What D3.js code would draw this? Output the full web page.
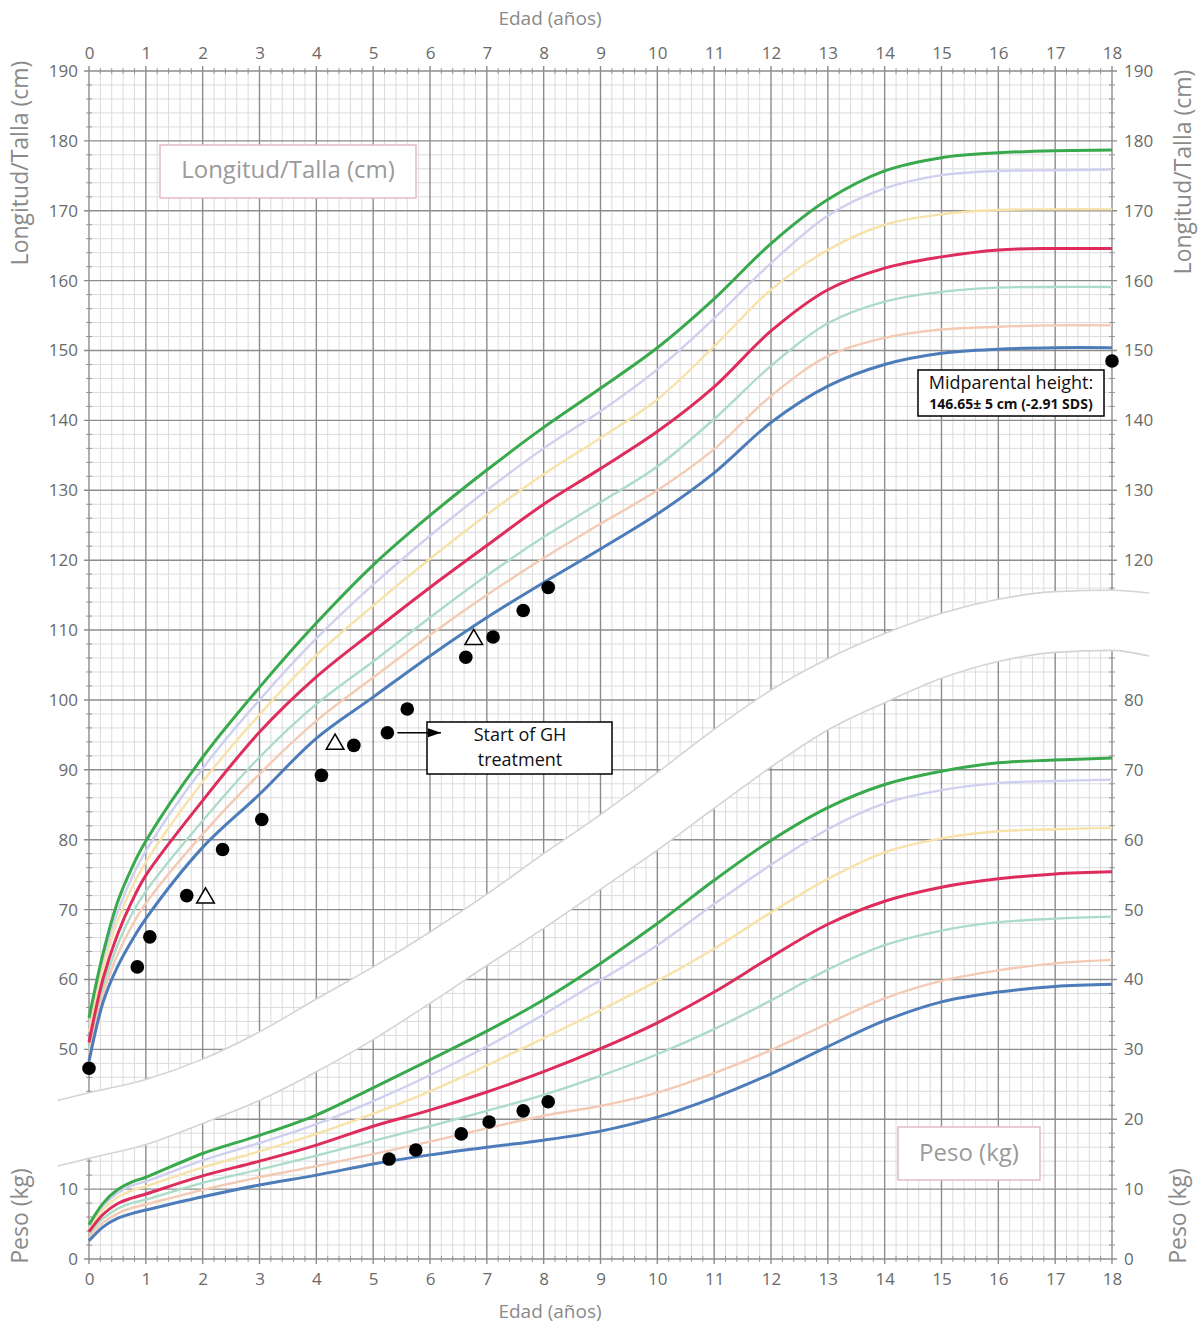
<!DOCTYPE html>
<html><head><meta charset="utf-8">
<script src="https://cdn.jsdelivr.net/npm/d3@7"></script>
<style>body{margin:0;background:#fff}svg{display:block}</style>
</head><body>
<svg id="c" width="1203" height="1327"></svg>
<script>
// ---------- DATA ----------
const ages = [0,0.25,0.5,0.75,1,2,3,4,5,6,7,8,9,10,11,12,13,14,15,16,17,18];
const yearTicks = [0,1,2,3,4,5,6,7,8,9,10,11,12,13,14,15,16,17,18];
const heightTicksLeft = [50,60,70,80,90,100,110,120,130,140,150,160,170,180,190];
const heightTicksRight = [120,130,140,150,160,170,180,190];
const weightTicksLeft = [0,10];
const weightTicksRight = [0,10,20,30,40,50,60,70,80];

// height percentile curves (cm)
const hGreen  = [54.5,63.8,71.0,75.9,79.8,91.8,101.8,111.0,119.3,126.4,132.9,139.0,144.6,150.4,157.4,165.3,171.6,175.7,177.6,178.3,178.6,178.7];
const hLav    = [53.5,62.8,69.6,74.5,78.4,90.2,100.0,108.8,116.5,123.5,130.0,136.0,141.3,147.3,154.6,162.5,169.3,173.2,175.1,175.7,175.8,175.9];
const hYellow = [52.5,61.7,68.3,73.1,76.8,88.3,97.9,106.4,113.5,120.2,126.5,132.3,137.5,143.0,150.6,158.7,164.4,168.0,169.5,170.1,170.2,170.2];
const hRed    = [51.0,60.2,66.4,71.1,74.9,85.6,95.4,103.3,109.8,116.1,122.1,128.0,133.1,138.4,144.8,152.8,158.7,161.8,163.4,164.4,164.6,164.6];
const hTeal   = [50.0,59.0,64.9,69.3,72.6,82.7,91.8,99.4,105.5,111.8,117.8,123.3,128.3,133.4,140.2,147.8,153.9,157.0,158.4,159.0,159.1,159.1];
const hSalmon = [49.3,58.0,63.5,67.6,70.9,80.8,89.4,97.0,103.2,109.3,115.0,120.3,125.2,130.0,135.9,143.5,149.2,151.8,153.0,153.4,153.6,153.6];
const hBlue   = [48.3,56.8,61.8,65.5,68.7,78.9,86.5,94.5,100.4,106.3,111.8,116.8,121.6,126.6,132.5,139.7,144.9,148.0,149.6,150.2,150.4,150.4];

// weight percentile curves (kg)
const wGreen  = [4.9,8.0,9.9,11.0,11.7,15.1,17.7,20.6,24.5,28.5,32.6,37.1,42.3,48.0,54.2,59.9,64.6,67.9,69.8,71.0,71.4,71.7];
const wLav    = [4.6,7.6,9.4,10.5,11.1,14.1,16.6,19.3,22.6,26.3,30.4,35.0,39.9,44.9,50.8,56.4,61.5,65.2,67.1,68.1,68.4,68.6];
const wYellow = [4.3,7.1,8.8,9.8,10.4,13.1,15.4,17.9,20.8,24.0,27.7,31.6,35.6,39.8,44.4,49.6,54.4,58.2,60.2,61.2,61.5,61.7];
const wRed    = [3.9,6.4,7.9,8.7,9.3,11.9,14.0,16.3,19.0,21.3,23.9,26.8,30.1,33.8,38.2,43.2,47.9,51.2,53.2,54.4,55.1,55.4];
const wTeal   = [3.5,5.8,7.2,8.0,8.5,10.9,12.8,14.8,16.9,19.0,21.2,23.5,26.2,29.3,32.9,37.0,41.4,44.9,47.0,48.2,48.7,49.0];
const wSalmon = [3.1,5.2,6.5,7.3,7.8,9.9,11.7,13.3,15.0,16.8,18.7,20.5,21.9,23.8,26.6,29.9,33.7,37.3,39.8,41.3,42.3,42.8];
const wBlue   = [2.6,4.6,5.8,6.5,7.0,8.9,10.6,12.0,13.6,14.9,16.0,17.0,18.3,20.3,23.1,26.5,30.4,34.1,36.8,38.2,39.0,39.3];

// patient measurements
const ptHeightAges = [0,0.85,1.07,1.72,2.35,3.04,4.09,4.66,5.25,5.6,6.63,7.11,7.64,8.08,18];
const ptHeights    = [47.3,61.8,66.1,72.0,78.6,82.9,89.2,93.5,95.3,98.7,106.1,109.0,112.8,116.1,148.5];
const triAges      = [2.05,4.33,6.77];
const triHeights   = [71.8,93.8,108.8];
const ptWeightAges = [5.28,5.75,6.55,7.04,7.64,8.08];
const ptWeights    = [14.3,15.6,17.9,19.6,21.2,22.5];

// white separator band (age, edges in height-axis units)
const bandAges  = [-0.55,0,1,2,3,4,5,6,7,8,9,10,11,12,13,14,15,16,17,18,18.65];
const bandUpper = [42.7,43.8,45.7,48.6,52.5,57.2,61.8,66.8,72.2,78.0,83.6,89.6,95.8,101.4,105.9,109.5,112.4,114.4,115.5,115.7,115.3];
const bandLower = [33.3,34.4,36.4,39.4,42.7,46.8,51.4,56.6,62.0,67.3,72.9,78.5,84.5,90.4,95.7,99.6,103.1,105.5,106.8,107.1,106.3];

// ---------- DRAW ----------
const svg = d3.select('#c');
const FONT = "'Open Sans', sans-serif";
const x  = d3.scaleLinear([0,18],[89,1112]);
const yH = d3.scaleLinear([20,190],[1259,71]);
const yW = d3.scaleLinear([0,170],[1259,71]);
const X0 = x(0), X1 = x(18), YT = yH(190), YB = yH(20);
const smooth = d3.curveCatmullRom.alpha(0.5);

// minor grid
const minorX = d3.range(0,91).map(i=>i*0.2).filter(v=>Math.abs(v-Math.round(v))>1e-6);
const minorY = d3.range(20,191,2).filter(v=>v%10!==0);
const gMin = svg.append('g').attr('stroke','#dcdcdc').attr('stroke-width',1);
gMin.selectAll('.vx').data(minorX).join('line')
  .attr('x1',d=>x(d)).attr('x2',d=>x(d)).attr('y1',YT).attr('y2',YB);
gMin.selectAll('.hy').data(minorY).join('line')
  .attr('y1',d=>yH(d)).attr('y2',d=>yH(d)).attr('x1',X0).attr('x2',X1);

// small axis ticks
const gTk = svg.append('g').attr('stroke','#999').attr('stroke-width',1);
minorX.forEach(v=>{
  gTk.append('line').attr('x1',x(v)).attr('x2',x(v)).attr('y1',YT-3).attr('y2',YT+3);
  gTk.append('line').attr('x1',x(v)).attr('x2',x(v)).attr('y1',YB-3).attr('y2',YB+3);
});
minorY.forEach(v=>{
  gTk.append('line').attr('y1',yH(v)).attr('y2',yH(v)).attr('x1',X0-3).attr('x2',X0+3);
  gTk.append('line').attr('y1',yH(v)).attr('y2',yH(v)).attr('x1',X1-3).attr('x2',X1+3);
});

// major grid
const majorY = d3.range(20,191,10);
const gMaj = svg.append('g').attr('stroke','#8c8c8c').attr('stroke-width',1.4);
gMaj.selectAll('.mx').data(yearTicks).join('line')
  .attr('x1',d=>x(d)).attr('x2',d=>x(d)).attr('y1',YT-5).attr('y2',YB+5);
gMaj.selectAll('.my').data(majorY).join('line')
  .attr('y1',d=>yH(d)).attr('y2',d=>yH(d)).attr('x1',X0-5).attr('x2',X1+5);

// white band
const bandData = bandAges.map((a,i)=>({a, hi:bandUpper[i], lo:bandLower[i]}));
svg.append('path').datum(bandData)
  .attr('d', d3.area().x(d=>x(d.a)).y0(d=>yH(d.lo)).y1(d=>yH(d.hi)).curve(d3.curveMonotoneX))
  .attr('fill','#fff');
['hi','lo'].forEach(k=>{
  svg.append('path').datum(bandData)
    .attr('d', d3.line().x(d=>x(d.a)).y(d=>yH(d[k])).curve(d3.curveMonotoneX))
    .attr('fill','none').attr('stroke','#d4d4d4').attr('stroke-width',1.6);
});

// axes labels via d3 axes
function styleAxis(g){
  g.select('.domain').remove();
  g.selectAll('text').attr('font-family',FONT).attr('font-size',17).attr('fill','#6a6a6a');
}
svg.append('g').attr('transform',`translate(0,${YT})`)
  .call(d3.axisTop(x).tickValues(yearTicks).tickSize(0).tickPadding(12).tickFormat(d3.format('d'))).call(styleAxis);
svg.append('g').attr('transform',`translate(0,${YB})`)
  .call(d3.axisBottom(x).tickValues(yearTicks).tickSize(0).tickPadding(14).tickFormat(d3.format('d'))).call(styleAxis);
svg.append('g').attr('transform',`translate(${X0},0)`)
  .call(d3.axisLeft(yH).tickValues(heightTicksLeft).tickSize(0).tickPadding(11).tickFormat(d3.format('d'))).call(styleAxis);
svg.append('g').attr('transform',`translate(${X0},0)`)
  .call(d3.axisLeft(yW).tickValues(weightTicksLeft).tickSize(0).tickPadding(11).tickFormat(d3.format('d'))).call(styleAxis);
svg.append('g').attr('transform',`translate(${X1},0)`)
  .call(d3.axisRight(yH).tickValues(heightTicksRight).tickSize(0).tickPadding(12).tickFormat(d3.format('d'))).call(styleAxis);
svg.append('g').attr('transform',`translate(${X1},0)`)
  .call(d3.axisRight(yW).tickValues(weightTicksRight).tickSize(0).tickPadding(12).tickFormat(d3.format('d'))).call(styleAxis);

// text helper
function txt(s, tx, ty, opt={}){
  return svg.append('text').attr('x',tx).attr('y',ty).text(s)
    .attr('font-family',FONT).attr('font-size',opt.size||17).attr('fill',opt.fill||'#8a8a8a')
    .attr('font-weight',opt.weight||'normal')
    .attr('text-anchor',opt.anchor||'middle').attr('dominant-baseline','middle')
    .attr('transform',opt.rot?`rotate(-90,${tx},${ty})`:null);
}
txt('Edad (años)', 550, 20, {size:19});
txt('Edad (años)', 550, 1313, {size:19});
txt('Longitud/Talla (cm)', 22, 163, {rot:true, size:23});
txt('Longitud/Talla (cm)', 1185, 172, {rot:true, size:23});
txt('Peso (kg)', 22, 1216, {rot:true, size:23});
txt('Peso (kg)', 1180, 1216, {rot:true, size:23});

// legend boxes
svg.append('rect').attr('x',160).attr('y',145).attr('width',256).attr('height',53)
  .attr('fill','#fff').attr('stroke','#e6b9c6').attr('stroke-width',1.5);
txt('Longitud/Talla (cm)', 288, 172, {size:24, fill:'#9a9a9a'});
svg.append('rect').attr('x',898).attr('y',1127).attr('width',142).attr('height',53)
  .attr('fill','#fff').attr('stroke','#e6b9c6').attr('stroke-width',1.5);
txt('Peso (kg)', 969, 1155, {size:24, fill:'#9a9a9a'});

// percentile curves
const styles = [
  {h:hLav,    w:wLav,    c:'#cfd0f0', sw:2.4},
  {h:hYellow, w:wYellow, c:'#f7e2aa', sw:2.4},
  {h:hTeal,   w:wTeal,   c:'#acdcc8', sw:2.4},
  {h:hSalmon, w:wSalmon, c:'#f3cbb4', sw:2.4},
  {h:hGreen,  w:wGreen,  c:'#38a94c', sw:3},
  {h:hRed,    w:wRed,    c:'#de2d5c', sw:3},
  {h:hBlue,   w:wBlue,   c:'#4d7cba', sw:3}
];
const lineH = d3.line().x((d,i)=>x(ages[i])).y(d=>yH(d)).curve(smooth);
const lineW = d3.line().x((d,i)=>x(ages[i])).y(d=>yW(d)).curve(smooth);
styles.forEach(s=>{
  svg.append('path').datum(s.h).attr('d',lineH).attr('fill','none').attr('stroke',s.c).attr('stroke-width',s.sw);
  svg.append('path').datum(s.w).attr('d',lineW).attr('fill','none').attr('stroke',s.c).attr('stroke-width',s.sw);
});

// patient points
svg.append('g').selectAll('circle').data(ptHeightAges).join('circle')
  .attr('cx',(d)=>x(d)).attr('cy',(d,i)=>yH(ptHeights[i])).attr('r',6.8).attr('fill','#000');
svg.append('g').selectAll('circle').data(ptWeightAges).join('circle')
  .attr('cx',(d)=>x(d)).attr('cy',(d,i)=>yW(ptWeights[i])).attr('r',6.8).attr('fill','#000');
const tri = d3.symbol().type(d3.symbolTriangle).size(135);
svg.append('g').selectAll('path').data(triAges).join('path')
  .attr('d',tri).attr('transform',(d,i)=>`translate(${x(d)},${yH(triHeights[i])+1})`)
  .attr('fill','#fff').attr('stroke','#000').attr('stroke-width',1.5);

// Start of GH treatment annotation
const defs = svg.append('defs');
defs.append('marker').attr('id','arr').attr('viewBox','0 0 10 10').attr('refX',10).attr('refY',5)
  .attr('markerWidth',9).attr('markerHeight',9).attr('orient','auto')
  .append('path').attr('d','M0,1.5 L10,5 L0,8.5 Z').attr('fill','#000');
svg.append('rect').attr('x',427).attr('y',722).attr('width',185).attr('height',52)
  .attr('fill','#fff').attr('stroke','#000').attr('stroke-width',1.5);
const ghx = x(5.25), ghy = yH(95.3);
svg.append('line').attr('x1',ghx+10).attr('y1',ghy).attr('x2',441).attr('y2',ghy)
  .attr('stroke','#000').attr('stroke-width',1.5).attr('marker-end','url(#arr)');
txt('Start of GH', 520, 736, {size:18, fill:'#111'});
txt('treatment', 520, 761, {size:18, fill:'#111'});

// Midparental annotation
svg.append('rect').attr('x',918).attr('y',370).attr('width',186).attr('height',46)
  .attr('fill','#fff').attr('stroke','#000').attr('stroke-width',1.5);
txt('Midparental height:', 1011, 384, {size:18, fill:'#111'});
txt('146.65± 5 cm (-2.91 SDS)', 1011, 405, {size:14, fill:'#111', weight:'bold'});
</script>
</body></html>
